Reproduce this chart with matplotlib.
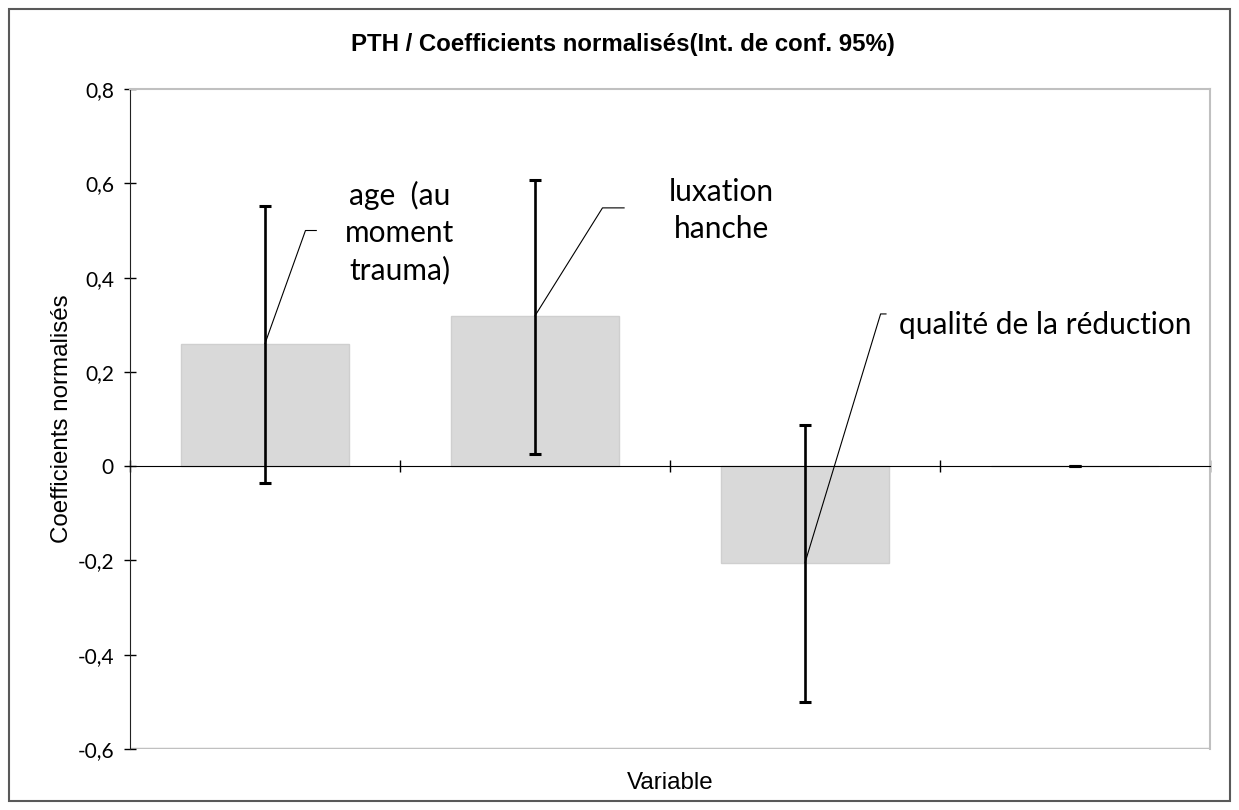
import numpy as np
import matplotlib
matplotlib.use("Agg")
import matplotlib.pyplot as plt
from matplotlib.patches import Rectangle

# Données
variables = ["age  (au\nmoment\ntrauma)", "luxation\nhanche", "qualité de la réduction", ""]
coefs = [0.26, 0.319, -0.205, 0.0]
ic_bas = [-0.036, 0.026, -0.50, 0.0]
ic_haut = [0.552, 0.607, 0.088, 0.0]
y_ticks = [-0.6, -0.4, -0.2, 0.0, 0.2, 0.4, 0.6, 0.8]

# Position des étiquettes (coude du trait de rappel, texte)
coude = [(0.15, 0.50), (1.25, 0.548), (2.28, 0.323)]
fin_coude = [0.19, 1.33, 2.30]
pos_texte = [(0.50, 0.495, "center"), (1.69, 0.543, "center"), (2.35, 0.30, "left")]

fig = plt.figure(figsize=(12.39, 8.10), dpi=100)
ax = fig.add_axes([0.1049, 0.0753, 0.8717, 0.8147])

x = np.arange(len(coefs))
coefs = np.array(coefs)
err = np.array([coefs - np.array(ic_bas), np.array(ic_haut) - coefs])

ax.bar(x, coefs, width=0.625, color="#d9d9d9", edgecolor="#cfcfcf", linewidth=1, zorder=2)
ax.errorbar(x, coefs, yerr=err, fmt="none", ecolor="black", elinewidth=1.9,
            capsize=4.5, capthick=2.2, zorder=4)

# Étiquettes avec traits de rappel
for i in range(3):
    cx, cy = coude[i]
    ax.plot([x[i], cx, fin_coude[i]], [coefs[i], cy, cy], color="black", lw=0.8, zorder=5)
    tx, ty, ha = pos_texte[i]
    ax.text(tx, ty, variables[i], ha=ha, va="center", fontsize=21.5,
            family="Lato", linespacing=1.38, multialignment="center")

ax.set_xlim(-0.5, len(coefs) - 0.5)
ax.set_ylim(-0.6, 0.8)
ax.set_yticks(y_ticks)
ax.set_yticklabels([f"{v:.1f}".replace(".", ",") if v != 0 else "0" for v in y_ticks],
                   family="Lato", fontsize=15)
ax.set_xticks(np.arange(len(coefs) + 1) - 0.5)
ax.set_xticklabels([])

ax.spines["bottom"].set_position(("data", 0))
ax.spines["bottom"].set_color("black")
ax.spines["left"].set_color("#222222")
ax.spines["top"].set_color("#c0c0c0")
ax.spines["right"].set_color("#c0c0c0")
ax.spines["top"].set_linewidth(1.5)
ax.spines["right"].set_linewidth(1.5)
ax.axhline(-0.6, color="#c0c0c0", lw=2.5, zorder=1)
ax.tick_params(axis="both", direction="inout", length=9, width=1, color="black")
ax.tick_params(axis="y", pad=7)

ax.set_ylabel("Coefficients normalisés", family="Liberation Sans", fontsize=17.4)
ax.yaxis.set_label_coords(-0.053, 0.5)
ax.set_xlabel("Variable", family="Liberation Sans", fontsize=17.4)
ax.xaxis.set_label_coords(0.5, -0.035)

fig.text(0.503, 1 - 44 / 810, "PTH / Coefficients normalisés(Int. de conf. 95%)",
         ha="center", va="center", family="Liberation Sans", fontsize=17.3, weight="bold")

fig.patches.append(Rectangle((9 / 1239, 9 / 810), 1221 / 1239, 792 / 810,
                             transform=fig.transFigure, fill=False,
                             edgecolor="#595959", linewidth=1.5))

fig.savefig("out.png", dpi=100)
